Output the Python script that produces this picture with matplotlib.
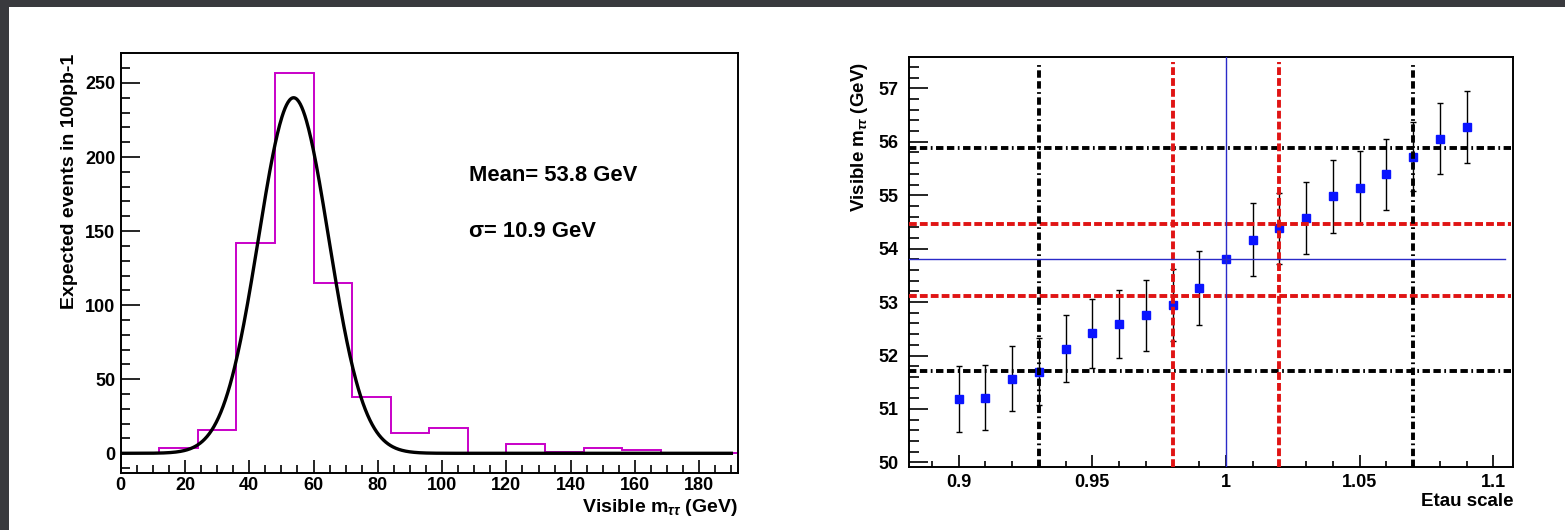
import numpy as np
import matplotlib
matplotlib.use("Agg")
import matplotlib.pyplot as plt
from matplotlib.patches import Rectangle
from matplotlib.ticker import MultipleLocator

plt.rcParams['font.family'] = ['Liberation Sans', 'DejaVu Sans']
plt.rcParams['font.weight'] = 'bold'
plt.rcParams['mathtext.fontset'] = 'custom'
plt.rcParams['mathtext.rm'] = 'Liberation Sans'
plt.rcParams['mathtext.it'] = 'Liberation Sans:italic'
plt.rcParams['mathtext.bf'] = 'Liberation Sans:bold'

# ---- left panel: visible mass histogram with gaussian fit ----
bin_edges = [0, 12, 24, 36, 48, 60, 72, 84, 96, 108, 120, 132, 144, 156, 168, 180, 192]
bin_counts = [0, 3.4, 15.7, 142, 257, 115, 38, 14, 17, 0, 6, 1, 3.5, 2, 0, 0]
fit_mean = 53.8
fit_sigma = 10.9
fit_peak = 240.0

# ---- right panel: visible mass versus tau energy scale ----
etau_scale = [0.90, 0.91, 0.92, 0.93, 0.94, 0.95, 0.96, 0.97, 0.98, 0.99,
              1.00, 1.01, 1.02, 1.03, 1.04, 1.05, 1.06, 1.07, 1.08, 1.09]
mvis = [51.18, 51.21, 51.57, 51.70, 52.13, 52.42, 52.59, 52.75, 52.95, 53.27,
        53.80, 54.17, 54.38, 54.58, 54.98, 55.14, 55.39, 55.72, 56.06, 56.27]
mvis_err = [0.62, 0.61, 0.61, 0.62, 0.63, 0.645, 0.645, 0.665, 0.67, 0.69,
            0.0, 0.68, 0.67, 0.675, 0.68, 0.68, 0.67, 0.65, 0.66, 0.675]
nominal_mass = 53.8
nominal_scale = 1.0
black_scale_lines = [0.93, 1.07]
red_scale_lines = [0.98, 1.02]
black_mass_lines = [51.71, 55.88]
red_mass_lines = [53.11, 54.46]

W, H = 1565, 530
fig = plt.figure(figsize=(W / 100, H / 100), dpi=100)
fig.patch.set_facecolor('white')
frame_col = '#393a3e'
fig.add_artist(Rectangle((0, 1 - 7 / H), 1, 7 / H, transform=fig.transFigure,
                         facecolor=frame_col, edgecolor='none', zorder=-5))
fig.add_artist(Rectangle((0, 0), 8.5 / W, 1, transform=fig.transFigure,
                         facecolor=frame_col, edgecolor='none', zorder=-5))

ax1 = fig.add_axes([120.7 / W, 1 - 472.7 / H, 617.1 / W, 419.4 / H])
ax2 = fig.add_axes([909.3 / W, 1 - 466.7 / H, 604.0 / W, 409.4 / H])

tick_fs = 13


def style_axes(ax):
    for side in ['top', 'right', 'left', 'bottom']:
        ax.spines[side].set_linewidth(1.4)
        ax.spines[side].set_color('black')
    ax.tick_params(which='both', direction='in', top=False, right=False,
                   labelsize=tick_fs, width=1.2, colors='black')


# left panel
ax1.stairs(bin_counts, bin_edges, color='#c800c8', linewidth=1.4, zorder=2)
xfit = np.linspace(0, 190, 800)
yfit = fit_peak * np.exp(-0.5 * ((xfit - fit_mean) / fit_sigma) ** 2)
ax1.plot(xfit, yfit, color='black', linewidth=2.4, zorder=3)
ax1.set_xlim(0, 192)
ax1.set_ylim(-13.1, 270)
ax1.xaxis.set_major_locator(MultipleLocator(20))
ax1.xaxis.set_minor_locator(MultipleLocator(5))
ax1.yaxis.set_major_locator(MultipleLocator(50))
ax1.yaxis.set_minor_locator(MultipleLocator(10))
style_axes(ax1)
ax1.tick_params(axis='y', which='major', length=13.5, pad=4)
ax1.tick_params(axis='y', which='minor', length=6.5)
ax1.tick_params(axis='x', which='major', length=9.5, pad=3)
ax1.tick_params(axis='x', which='minor', length=5.5)
for lab in ax1.get_xticklabels() + ax1.get_yticklabels():
    lab.set_fontweight('bold')

ax1.text(0.5644, 0.696, 'Mean= 53.8 GeV', transform=ax1.transAxes,
         fontsize=15.8, fontweight='bold', va='baseline', ha='left')
ax1.text(0.5644, 0.561, 'σ= 10.9 GeV', transform=ax1.transAxes,
         fontsize=15.8, fontweight='bold', va='baseline', ha='left')

ax1.set_ylabel('Expected events in 100pb-1', fontsize=14, fontweight='bold')
ax1.yaxis.set_label_coords((70 - 120.7) / 617.1, 1.0)
ax1.yaxis.label.set_ha('right')
ax1.yaxis.label.set_va('center')
ax1.set_xlabel(r'Visible m$_{\tau\tau}$ (GeV)', fontsize=14, fontweight='bold')
ax1.xaxis.set_label_coords(1.0, (472.7 - 507) / 419.4)
ax1.xaxis.label.set_ha('right')
ax1.xaxis.label.set_va('center')

# right panel
ax2.errorbar(etau_scale, mvis, yerr=mvis_err, fmt='s', color='#0a14ff',
             markersize=5.8, ecolor='black', elinewidth=1.0, capsize=2.2,
             capthick=1.0, zorder=3)

black_dash = (0, (1.9, 0.9, 1.9, 0.9, 0.45, 0.9))
red_dash = (0, (2.0, 0.8))
x_lo, x_hi = 0.8815, 1.1075
for v in black_mass_lines:
    ax2.plot([x_lo, 1.1065], [v, v], color='black', linewidth=2.8,
             linestyle=black_dash, zorder=4)
for v in red_mass_lines:
    ax2.plot([x_lo, 1.1065], [v, v], color='#e01414', linewidth=2.8,
             linestyle=red_dash, zorder=4)
for v in black_scale_lines:
    ax2.plot([v, v], [49.92, 57.5], color='black', linewidth=2.8,
             linestyle=black_dash, zorder=4)
for v in red_scale_lines:
    ax2.plot([v, v], [49.92, 57.5], color='#e01414', linewidth=2.8,
             linestyle=red_dash, zorder=4)
ax2.plot([x_lo, 1.1045], [nominal_mass, nominal_mass], color='#2a2ac8',
         linewidth=1.0, zorder=5)
ax2.plot([nominal_scale, nominal_scale], [49.92, 57.58], color='#2a2ac8',
         linewidth=1.0, zorder=5)

ax2.set_xlim(x_lo, x_hi)
ax2.set_ylim(49.92, 57.58)
ax2.set_xticks([0.9, 0.95, 1.0, 1.05, 1.1])
ax2.set_xticklabels(['0.9', '0.95', '1', '1.05', '1.1'])
ax2.xaxis.set_minor_locator(MultipleLocator(0.01))
ax2.yaxis.set_major_locator(MultipleLocator(1))
ax2.yaxis.set_minor_locator(MultipleLocator(0.2))
style_axes(ax2)
ax2.tick_params(axis='y', which='major', length=13.5, pad=8)
ax2.tick_params(axis='y', which='minor', length=7)
ax2.tick_params(axis='x', which='major', length=9, pad=5)
ax2.tick_params(axis='x', which='minor', length=4.5)
for lab in ax2.get_xticklabels() + ax2.get_yticklabels():
    lab.set_fontweight('bold')

ax2.set_ylabel(r'Visible m$_{\tau\tau}$ (GeV)', fontsize=13.5, fontweight='bold')
ax2.yaxis.set_label_coords((860 - 909.3) / 604.0, (466.7 - 62) / 409.4)
ax2.yaxis.label.set_ha('right')
ax2.yaxis.label.set_va('center')
ax2.set_xlabel('Etau scale', fontsize=13.5, fontweight='bold')
ax2.xaxis.set_label_coords(1.0, (466.7 - 502) / 409.4)
ax2.xaxis.label.set_ha('right')
ax2.xaxis.label.set_va('center')

fig.savefig('out.png', dpi=100, facecolor=fig.get_facecolor())
